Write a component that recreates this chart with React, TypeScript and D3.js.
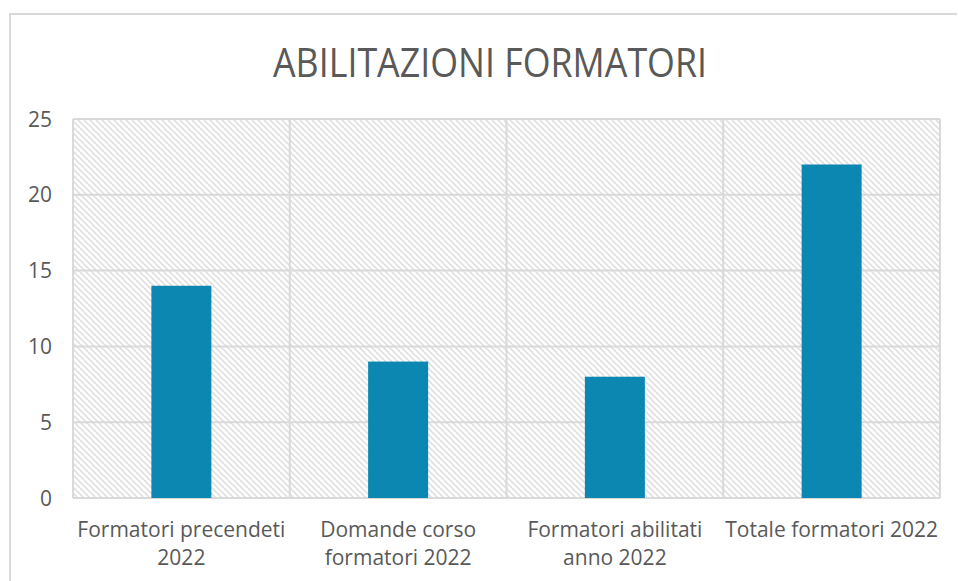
import { useRef, useEffect } from "react";
import * as d3 from "d3";

const categories = [
  ["Formatori precendeti", "2022"],
  ["Domande corso", "formatori 2022"],
  ["Formatori abilitati", "anno 2022"],
  ["Totale formatori 2022"],
];
const values = [14, 9, 8, 22];
const yTicks = [0, 5, 10, 15, 20, 25];
const title = "ABILITAZIONI FORMATORI";

export default function App() {
  const svgRef = useRef<SVGSVGElement>(null);

  useEffect(() => {
    if (!svgRef.current) return;
    const width = 958;
    const height = 581;
    const margin = { top: 119, right: 18, bottom: 83, left: 73 };

    const svg = d3.select(svgRef.current);
    svg.selectAll("*").remove();
    svg.attr("width", width).attr("height", height);

    const font = "'Open Sans', 'Liberation Sans', sans-serif";
    const grey = "#595959";
    const gridColor = "#d9d9d9";

    // hatch fill for plot area
    const defs = svg.append("defs");
    const pat = defs
      .append("pattern")
      .attr("id", "hatch")
      .attr("patternUnits", "userSpaceOnUse")
      .attr("width", 6)
      .attr("height", 6);
    pat
      .append("path")
      .attr("d", "M-1,-1 L7,7 M-1,5 L1,7 M5,-1 L7,1")
      .attr("stroke", "#dcdcdc")
      .attr("stroke-width", 1.5);

    svg.append("rect").attr("width", width).attr("height", height).attr("fill", "#fff");

    // chart frame (only top and left edges fall inside the picture)
    svg
      .append("path")
      .attr("d", `M10,${height} L10,14 L${width - 1},14`)
      .attr("fill", "none")
      .attr("stroke", gridColor)
      .attr("stroke-width", 2);

    const x = d3
      .scaleBand<number>()
      .domain(d3.range(categories.length))
      .range([margin.left, width - margin.right]);

    const y = d3
      .scaleLinear()
      .domain([0, 25])
      .range([height - margin.bottom, margin.top]);

    svg
      .append("rect")
      .attr("x", margin.left)
      .attr("y", margin.top)
      .attr("width", width - margin.left - margin.right)
      .attr("height", height - margin.top - margin.bottom)
      .attr("fill", "url(#hatch)");

    // horizontal gridlines
    svg
      .append("g")
      .selectAll("line")
      .data(yTicks)
      .join("line")
      .attr("x1", margin.left)
      .attr("x2", width - margin.right)
      .attr("y1", (d) => y(d))
      .attr("y2", (d) => y(d))
      .attr("stroke", gridColor)
      .attr("stroke-width", 2);

    // vertical gridlines at category edges
    const edges = [...x.domain().map((i) => x(i)!), width - margin.right];
    svg
      .append("g")
      .selectAll("line")
      .data(edges)
      .join("line")
      .attr("x1", (d) => d)
      .attr("x2", (d) => d)
      .attr("y1", margin.top)
      .attr("y2", height - margin.bottom)
      .attr("stroke", gridColor)
      .attr("stroke-width", 2);

    // bars
    const barW = 60;
    svg
      .append("g")
      .selectAll("rect")
      .data(values)
      .join("rect")
      .attr("x", (_, i) => x(i)! + x.bandwidth() / 2 - barW / 2)
      .attr("y", (d) => y(d))
      .attr("width", barW)
      .attr("height", (d) => y(0) - y(d))
      .attr("fill", "#0b87b1");

    // y tick labels
    svg
      .append("g")
      .selectAll("text")
      .data(yTicks)
      .join("text")
      .attr("x", 52)
      .attr("y", (d) => y(d))
      .attr("dy", "0.36em")
      .attr("text-anchor", "end")
      .attr("font-family", font)
      .attr("font-size", 21)
      .attr("fill", grey)
      .text((d) => d);

    // category labels
    categories.forEach((lines, i) => {
      const cx = x(i)! + x.bandwidth() / 2;
      lines.forEach((ln, j) => {
        svg
          .append("text")
          .attr("x", cx)
          .attr("y", 537 + j * 28)
          .attr("text-anchor", "middle")
          .attr("font-family", font)
          .attr("font-size", 21)
          .attr("fill", grey)
          .text(ln);
      });
    });

    svg
      .append("text")
      .attr("x", 490)
      .attr("y", 77)
      .attr("text-anchor", "middle")
      .attr("font-family", font)
      .attr("font-size", 41)
      .attr("textLength", 434)
      .attr("lengthAdjust", "spacingAndGlyphs")
      .attr("fill", grey)
      .text(title);
  }, []);

  return (
    <svg
      ref={svgRef}
      style={{ display: "block", position: "absolute", left: 0, top: 0 }}
    />
  );
}
